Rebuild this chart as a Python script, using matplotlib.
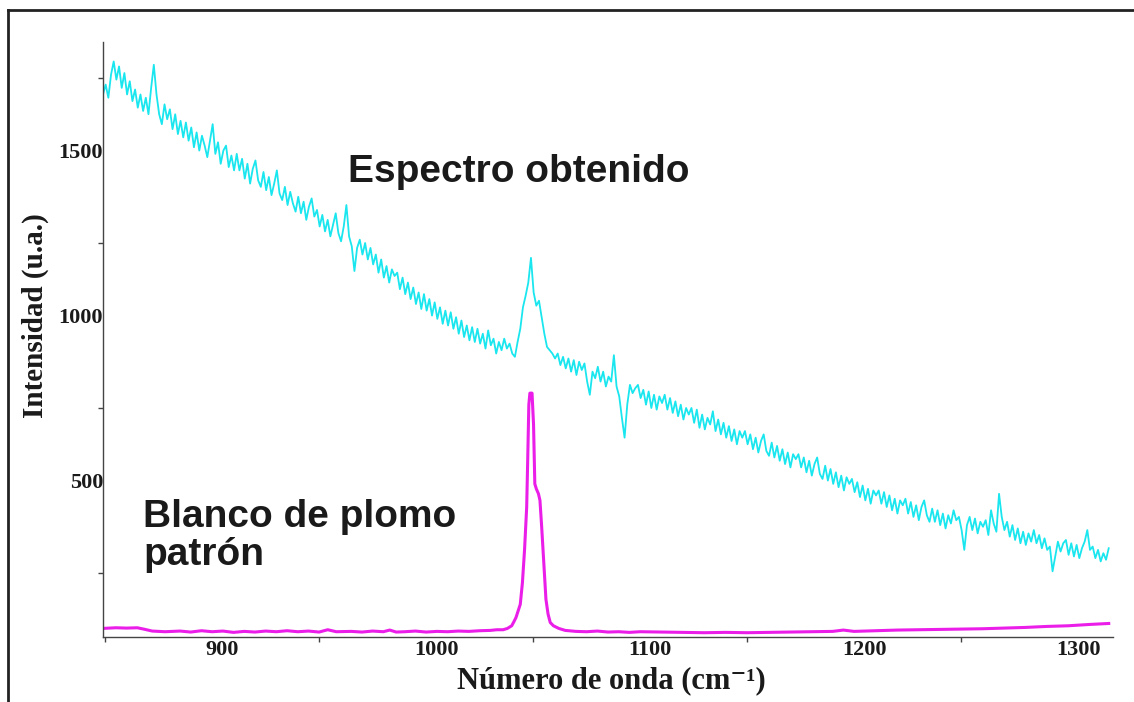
"""
Raman spectrum of a paint sample vs. lead white reference
"""

import numpy as np
import matplotlib.pyplot as plt
from matplotlib.lines import Line2D
from matplotlib.transforms import ScaledTranslation

# wavenumber grid of the measured spectrum (cm-1)
obtenido_start = 849.0
obtenido_step = 1.25

obtenido = [
    1700, 1730, 1690, 1760, 1800, 1745, 1785, 1720, 1765, 1700,
    1740, 1680, 1715, 1660, 1700, 1650, 1690, 1640, 1720, 1790,
    1700, 1640, 1610, 1670, 1625, 1655, 1595, 1640, 1580, 1620,
    1570, 1615, 1560, 1600, 1540, 1585, 1530, 1575, 1545, 1510,
    1560, 1610, 1520, 1555, 1490, 1530, 1545, 1480, 1515, 1470,
    1520, 1470, 1505, 1445, 1490, 1430, 1475, 1500, 1440, 1420,
    1465, 1410, 1450, 1395, 1430, 1470, 1400, 1380, 1420, 1365,
    1405, 1370, 1345, 1390, 1340, 1375, 1320, 1360, 1385, 1330,
    1350, 1300, 1335, 1285, 1320, 1270, 1305, 1340, 1280, 1255,
    1300, 1365, 1270, 1240, 1165, 1235, 1260, 1215, 1250, 1200,
    1235, 1185, 1215, 1160, 1200, 1145, 1180, 1130, 1170, 1150,
    1160, 1110, 1145, 1095, 1130, 1080, 1115, 1065, 1100, 1050,
    1095, 1045, 1080, 1030, 1070, 1020, 1055, 1005, 1045, 1000,
    1040, 990, 1025, 975, 1015, 965, 1000, 955, 995, 950,
    990, 945, 975, 930, 985, 940, 960, 915, 950, 925,
    960, 930, 945, 915, 905, 950, 990, 1055, 1090, 1130,
    1205, 1100, 1060, 1075, 1025, 975, 935, 925, 915, 900,
    915, 880, 905, 870, 900, 860, 895, 850, 890, 865,
    885, 830, 790, 860, 840, 875, 830, 860, 815, 845,
    830, 910, 815, 785, 720, 660, 760, 820, 795, 810,
    820, 780, 805, 760, 800, 750, 790, 745, 785, 765,
    790, 745, 780, 735, 770, 725, 760, 715, 750, 730,
    750, 705, 745, 690, 730, 685, 720, 700, 740, 680,
    715, 670, 705, 660, 695, 650, 685, 640, 680, 660,
    680, 640, 670, 625, 660, 615, 650, 670, 620, 605,
    645, 600, 635, 590, 625, 580, 615, 570, 610, 595,
    610, 570, 600, 555, 590, 545, 580, 600, 550, 535,
    575, 530, 565, 520, 555, 510, 545, 500, 540, 520,
    535, 495, 525, 480, 515, 470, 505, 460, 500, 485,
    500, 460, 495, 450, 485, 440, 475, 430, 470, 455,
    475, 430, 465, 420, 455, 410, 450, 470, 425, 405,
    445, 405, 440, 395, 430, 385, 425, 400, 440, 410,
    420, 380, 320, 395, 420, 380, 415, 370, 405, 390,
    410, 365, 440, 400, 375, 490, 420, 380, 405, 360,
    395, 350, 385, 340, 375, 335, 370, 345, 380, 340,
    365, 325, 355, 320, 330, 255, 300, 345, 315, 340,
    350, 305, 340, 300, 335, 295, 325, 345, 380, 320,
    330, 295, 320, 285, 310, 290, 325,
]

# lead white reference (magenta)
patron_x = [
    849, 855, 860, 865, 868, 872, 878, 885, 890, 895, 900, 905, 910, 915,
    920, 925, 930, 935, 940, 945, 950, 954, 958, 965, 970, 975, 980, 983,
    986, 990, 995, 1000, 1005, 1010, 1015, 1020, 1025, 1030, 1033, 1036,
    1038, 1040, 1041, 1042, 1043, 1044, 1045, 1046, 1047, 1047.5, 1048,
    1048.5, 1049.5, 1050.2, 1050.8, 1051.5, 1052.5, 1053.2, 1054, 1055,
    1056, 1057, 1058, 1059.5, 1062, 1065, 1070, 1075, 1080, 1085, 1090,
    1095, 1100, 1110, 1120, 1130, 1140, 1150, 1160, 1170, 1180, 1190,
    1195, 1200, 1210, 1220, 1230, 1240, 1250, 1260, 1270, 1280, 1290,
    1300, 1310, 1319,
]
patron_y = [
    82, 84, 83, 84, 80, 74, 72, 74, 71, 75, 72, 74, 70, 73,
    71, 74, 72, 75, 72, 74, 71, 78, 72, 73, 71, 74, 72, 77,
    71, 72, 74, 71, 73, 72, 74, 73, 75, 76, 78, 78,
    82, 90, 102, 115, 135, 155, 220, 320, 450, 600, 760,
    795, 795, 700, 520, 505, 490, 470, 390, 280,
    170, 125, 100, 90, 82, 76, 73, 72, 74, 71, 72,
    70, 72, 71, 70, 69, 70, 69, 70, 71, 72, 73,
    77, 73, 75, 77, 78, 79, 80, 81, 83, 85, 88,
    90, 94, 97,
]

x_labels = [900, 1000, 1100, 1200, 1300]
x_marks = [850, 950, 1050, 1150, 1250]
y_labels = [500, 1000, 1500]
y_marks = [250, 750, 1250, 1750]

W, H = 1134, 702
fig = plt.figure(figsize=(W / 100, H / 100), dpi=100)
fig.patch.set_facecolor('white')

# axes box in pixels: left 103, right 1113, top 42, bottom 637
ax = fig.add_axes([103 / W, 1 - 637 / H, 1010 / W, 595 / H])

obtenido_x = obtenido_start + obtenido_step * np.arange(len(obtenido))
ax.plot(obtenido_x, obtenido, color='#19e6ee', lw=1.3)
ax.plot(patron_x, patron_y, color='#ea1ee8', lw=2.2)

ax.set_xlim(849, 1321)
ax.set_ylim(56, 1859)

for side in ['top', 'right']:
    ax.spines[side].set_visible(False)
for side in ['left', 'bottom']:
    ax.spines[side].set_color('#444444')
    ax.spines[side].set_linewidth(1.0)

serif_bold = dict(family=['Liberation Serif', 'DejaVu Serif'], weight='bold')

ax.set_xticks(x_labels)
ax.set_xticklabels([str(v) for v in x_labels], fontsize=16, **serif_bold)
ax.set_xticks(x_marks, minor=True)
ax.set_yticks(y_labels)
ax.set_yticklabels([str(v) for v in y_labels], fontsize=16, **serif_bold)
ax.set_yticks(y_marks, minor=True)

ax.tick_params(which='major', length=0, pad=2, colors='#1a1a1a')
ax.tick_params(which='minor', length=3.5, width=1, color='#444444')
ax.tick_params(axis='y', which='major', pad=0)

# labels sit a bit off their ticks in the original
for lbl in ax.get_xticklabels():
    lbl.set_transform(lbl.get_transform() + ScaledTranslation(0.10, 0, fig.dpi_scale_trans))
for lbl in ax.get_yticklabels():
    lbl.set_transform(lbl.get_transform() + ScaledTranslation(0, 0.10, fig.dpi_scale_trans))

fig.text(611 / W, 1 - 681 / H, 'Número de onda (cm\u207b\u00b9)',
         ha='center', va='center', fontsize=22, color='#1a1a1a', **serif_bold)
fig.text(35 / W, 1 - 316 / H, 'Intensidad (u.a.)', rotation=90,
         ha='center', va='center', fontsize=21, color='#1a1a1a', **serif_bold)

sans_bold = dict(family=['Liberation Sans', 'DejaVu Sans'], weight='bold')
fig.text(519 / W, 1 - 172 / H, 'Espectro obtenido', ha='center', va='center',
         fontsize=28, color='#1a1a1a', **sans_bold)
fig.text(143 / W, 1 - 517 / H, 'Blanco de plomo', ha='left', va='center',
         fontsize=28, color='#1a1a1a', **sans_bold)
fig.text(143 / W, 1 - 555 / H, 'patrón', ha='left', va='center',
         fontsize=28, color='#1a1a1a', **sans_bold)

# outer frame: top and left edges only
fig.add_artist(Line2D([8 / W, 1], [1 - 10 / H, 1 - 10 / H], transform=fig.transFigure,
                      color='#222222', lw=2))
fig.add_artist(Line2D([8 / W, 8 / W], [0, 1 - 10 / H], transform=fig.transFigure,
                      color='#222222', lw=2))

fig.savefig('out.png', dpi=100)
